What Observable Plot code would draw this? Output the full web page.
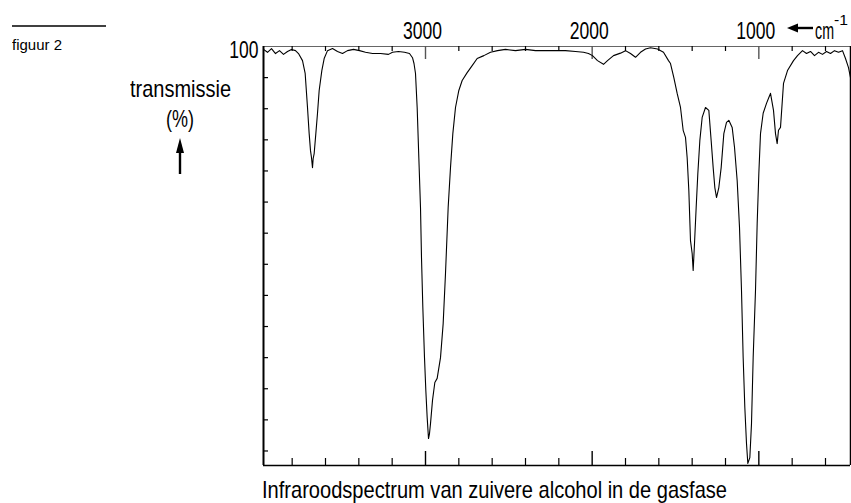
<!DOCTYPE html>
<html>
<head>
<meta charset="utf-8">
<script src="https://cdn.jsdelivr.net/npm/d3@7"></script>
<script src="https://cdn.jsdelivr.net/npm/@observablehq/plot@0.6"></script>
<style>
  html, body { margin: 0; padding: 0; background: #fff; }
  #wrap { position: relative; width: 851px; height: 503px; overflow: hidden; }
  #wrap svg.plot { position: absolute; left: 0; top: 0; }
  .ov { position: absolute; white-space: nowrap; color: #000; transform-origin: 0 0; }
  .cond { font-family: "Liberation Sans", Arial, sans-serif; }
</style>
</head>
<body>
<div id="wrap"></div>
<script>
// Wavenumber (cm^-1) and transmission (%)
const wavenumber = [
  3972, 3948, 3924, 3900, 3876, 3852, 3828, 3804, 3780, 3762,
  3738, 3722, 3708, 3698, 3690, 3684, 3678, 3674, 3668, 3658,
  3648, 3638, 3622, 3608, 3588, 3558, 3528, 3498, 3468, 3432,
  3396, 3360, 3318, 3270, 3222, 3198, 3162, 3126, 3096, 3078,
  3069, 3060, 3050, 3040, 3030, 3024, 3016, 3006, 2998, 2990,
  2982, 2976, 2970, 2958, 2944, 2930, 2910, 2894, 2880, 2864,
  2850, 2836, 2820, 2800, 2780, 2750, 2720, 2690, 2650, 2610,
  2568, 2520, 2460, 2400, 2340, 2280, 2220, 2160, 2100, 2052,
  2022, 1998, 1968, 1932, 1908, 1872, 1830, 1800, 1770, 1740,
  1710, 1680, 1650, 1608, 1572, 1542, 1530, 1510, 1490, 1470,
  1454, 1440, 1430, 1420, 1410, 1400, 1394, 1386, 1376, 1366,
  1354, 1340, 1320, 1300, 1286, 1274, 1264, 1254, 1240, 1226,
  1210, 1194, 1180, 1160, 1146, 1130, 1116, 1104, 1094, 1084,
  1074, 1066, 1054, 1044, 1034, 1020, 1010, 1000, 990, 974,
  954, 940, 930, 912, 900, 890, 882, 870, 852, 828,
  792, 768, 738, 714, 690, 666, 642, 618, 594, 570,
  546, 522, 498, 480, 462, 450
];
const transmission = [
  99.3, 98.6, 99.5, 98.3, 99.0, 98.1, 98.8, 99.3, 99.0, 98.3,
  96.6, 93.5, 85.3, 79.0, 74.9, 73.2, 70.8, 73.0, 74.2, 79.0,
  83.9, 89.4, 94.2, 97.1, 99.0, 99.5, 98.8, 98.3, 99.0, 99.3,
  99.0, 98.6, 98.3, 98.3, 98.1, 98.6, 98.8, 98.6, 98.3, 97.3,
  95.9, 93.5, 85.3, 73.2, 61.2, 49.1, 37.1, 25.0, 17.1, 10.6,
  5.5, 6.7, 9.1, 14.7, 19.0, 20.0, 25.0, 33.2, 45.3, 61.2,
  70.8, 79.0, 85.3, 89.4, 91.8, 93.7, 95.4, 97.1, 97.8, 98.6,
  99.0, 99.3, 99.0, 99.3, 99.0, 99.0, 99.0, 99.0, 98.8, 98.6,
  98.3, 97.8, 96.6, 95.7, 96.6, 97.8, 98.4, 99.0, 98.3, 97.4,
  98.6, 99.4, 99.7, 99.4, 98.6, 96.6, 95.9, 92.5, 88.7, 85.3,
  79.8, 78.1, 73.2, 65.3, 53.2, 50.1, 46.0, 52.5, 61.2, 69.4,
  77.3, 82.9, 85.3, 84.6, 77.3, 70.8, 66.0, 63.6, 66.0, 70.8,
  79.0, 81.7, 82.2, 80.5, 75.7, 67.7, 56.4, 41.2, 25.0, 13.0,
  4.3, -0.5, 0.9, 9.1, 25.0, 41.2, 57.3, 69.4, 79.0, 83.9,
  86.3, 87.7, 88.7, 84.6, 79.0, 76.6, 79.8, 80.5, 91.1, 94.2,
  96.6, 97.8, 99.0, 98.3, 98.8, 97.8, 98.6, 98.1, 98.8, 98.3,
  99.0, 98.6, 99.0, 97.1, 94.9, 92.5
];
const xDomain = [3972, 450];
const yDomain = [-1, 100];
const xTicksMinor = [3800, 3600, 3400, 3200, 2800, 2600, 2400, 2200, 1800, 1600, 1400, 1200, 800, 600];
const xTicksMajor = [3000, 2000, 1000];
const xTickLabels = [3000, 2000, 1000];
const yTicks = [92.5, 85, 77.5, 70, 62.5, 55, 47.5, 40, 32.5, 25, 17.5, 10, 2.5];
const yTickLabels = [100];

const rows = wavenumber.map((w, i) => ({w, t: transmission[i]}));

const W = 851, H = 503;
const mL = 263, mR = 1, mT = 46, mB = 38;
const fw = W - mL - mR, fh = H - mT - mB;
const fontFam = "Liberation Sans, Arial, sans-serif";

const chart = Plot.plot({
  width: W,
  height: H,
  marginLeft: mL,
  marginRight: mR,
  marginTop: mT,
  marginBottom: mB,
  x: {domain: xDomain},
  y: {domain: yDomain},
  style: {fontFamily: fontFam, background: "transparent", overflow: "visible"},
  marks: [
    // frame
    Plot.ruleY([yDomain[1]], {stroke: "#666", strokeWidth: 1}),
    Plot.ruleX([xDomain[1]], {stroke: "#000", strokeWidth: 1.5}),
    Plot.ruleY([yDomain[0]], {stroke: "#000", strokeWidth: 1.6}),
    Plot.ruleX([xDomain[0]], {stroke: "#000", strokeWidth: 2}),
    // inward ticks
    Plot.tickX(xTicksMinor, {x: d => d, insetTop: fh - 7, stroke: "#000", strokeWidth: 1.2}),
    Plot.tickX(xTicksMajor, {x: d => d, insetTop: fh - 14, stroke: "#000", strokeWidth: 1.4}),
    Plot.tickX(xTicksMinor, {x: d => d, insetBottom: fh - 5, stroke: "#000", strokeWidth: 1.2}),
    Plot.tickX(xTicksMajor, {x: d => d, insetBottom: fh - 13, stroke: "#555", strokeWidth: 1.4}),
    Plot.tickY(yTicks, {y: d => d, insetRight: fw - 5, stroke: "#000", strokeWidth: 1.2}),
    // axis labels
    Plot.axisX({anchor: "top", ticks: xTickLabels, tickSize: 0, tickPadding: 8, fontSize: 24, dx: -3, tickFormat: d => String(d), label: null, fontFamily: fontFam}),
    Plot.axisY({anchor: "left", ticks: yTickLabels, tickSize: 0, tickPadding: 5, fontSize: 24, dy: 4, tickFormat: d => String(d), label: null, fontFamily: fontFam}),
    // spectrum
    Plot.line(rows, {x: "w", y: "t", stroke: "#000", strokeWidth: 1.1, clip: true})
  ]
});
chart.classList.add("plot");
const wrap = document.getElementById("wrap");
wrap.appendChild(chart);

// condense the axis tick labels (narrow typeface look)
chart.querySelectorAll('g[aria-label$="tick label"] text').forEach(t => {
  const len = t.getComputedTextLength();
  t.setAttribute("textLength", (len * 0.73).toFixed(1));
  t.setAttribute("lengthAdjust", "spacingAndGlyphs");
});

// overlay text helper: target width condenses text horizontally
function addText(html, {x, y, size, width, center = false, family = fontFam}) {
  const d = document.createElement("div");
  d.className = "ov";
  d.innerHTML = html;
  d.style.fontFamily = family;
  d.style.fontSize = size + "px";
  d.style.lineHeight = "1";
  d.style.top = y + "px";
  wrap.appendChild(d);
  const w = d.getBoundingClientRect().width;
  const k = width ? width / w : 1;
  d.style.left = (center ? x - (w * k) / 2 : x) + "px";
  d.style.transform = `scaleX(${k})`;
  return d;
}
function addShape(svg, x, y) {
  const d = document.createElement("div");
  d.className = "ov";
  d.style.left = x + "px";
  d.style.top = y + "px";
  d.style.lineHeight = "0";
  d.innerHTML = svg;
  wrap.appendChild(d);
}

// top-left rule and figure label
addShape('<svg width="96" height="3"><line x1="0" y1="1" x2="94" y2="1" stroke="#000" stroke-width="1.5"/></svg>', 12, 23);
addText("figuur 2", {x: 12, y: 37, size: 15, width: 50});

// y axis title
addText("transmissie", {x: 180, y: 77, size: 24, width: 101, center: true});
addText("(%)", {x: 180, y: 107, size: 24, width: 28, center: true});
addShape('<svg width="12" height="40" viewBox="0 0 12 40"><path d="M6,2 L10,17 L2,17 Z" fill="#000"/><line x1="6" y1="14" x2="6" y2="38" stroke="#000" stroke-width="2.4"/></svg>', 174, 136);

// unit with arrow
addShape('<svg width="28" height="12" viewBox="0 0 28 12"><path d="M1,6 L12,1.5 L12,10.5 Z" fill="#000"/><line x1="10" y1="6" x2="27" y2="6" stroke="#000" stroke-width="2.4"/></svg>', 786, 22);
addText("cm", {x: 815, y: 19, size: 24, width: 19});
addText("-1", {x: 834, y: 12, size: 15, width: 14});

// caption
addText("Infraroodspectrum van zuivere alcohol in de gasfase", {x: 262, y: 478, size: 24, width: 465});
</script>
</body>
</html>
